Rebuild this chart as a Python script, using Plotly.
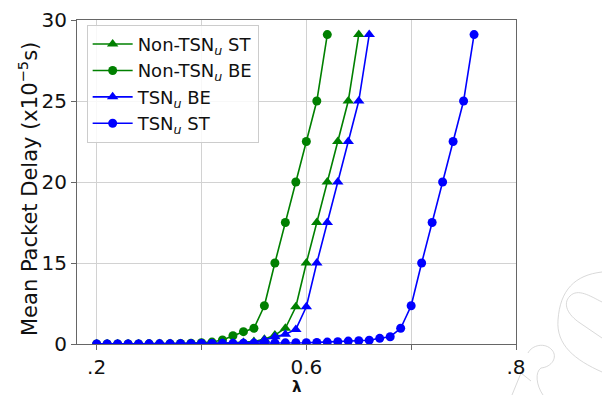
import plotly.graph_objects as go

# Offered load (lambda) grid shared by all series
LAMBDA = [0.20, 0.22, 0.24, 0.26, 0.28, 0.30, 0.32, 0.34, 0.36, 0.38,
          0.40, 0.42, 0.44, 0.46, 0.48, 0.50, 0.52, 0.54, 0.56, 0.58,
          0.60, 0.62, 0.64, 0.66, 0.68, 0.70, 0.72, 0.74, 0.76, 0.78,
          0.80, 0.82, 0.84, 0.86, 0.88, 0.90, 0.92]

# Mean packet delay per series (axis units)
NON_TSN_ST = [10.0, 10.0, 10.0, 10.0, 10.0, 10.0, 10.01, 10.01, 10.02, 10.02,
              10.03, 10.04, 10.05, 10.07, 10.1, 10.15, 10.3, 10.55, 10.97, 12.3,
              15.0, 17.5, 20.0, 22.5, 25.0, 29.1]
NON_TSN_BE = [10.0, 10.0, 10.0, 10.0, 10.0, 10.01, 10.01, 10.02, 10.03, 10.05,
              10.08, 10.12, 10.25, 10.51, 10.76, 10.97, 12.36, 15.0, 17.5, 20.0,
              22.5, 25.0, 29.1]
TSN_BE = [10.0, 10.0, 10.0, 10.0, 10.0, 10.0, 10.01, 10.01, 10.02, 10.02,
          10.03, 10.03, 10.04, 10.05, 10.07, 10.1, 10.25, 10.45, 10.6, 10.9,
          12.3, 15.0, 17.5, 20.0, 22.5, 25.0, 29.1]
TSN_ST = [10.0, 10.0, 10.0, 10.0, 10.0, 10.01, 10.01, 10.01, 10.02, 10.02,
          10.03, 10.03, 10.04, 10.04, 10.05, 10.05, 10.06, 10.06, 10.07, 10.08,
          10.08, 10.10, 10.12, 10.14, 10.18, 10.20, 10.23, 10.35, 10.45, 10.97,
          12.36, 15.0, 17.5, 20.0, 22.5, 25.0, 29.1]

X_TICKS = [0.2, 0.4, 0.6, 0.8, 1.0]
X_TICK_TEXT = [".2", "", "0.6", "", ".8"]
Y_TICKS = [10, 15, 20, 25, 30]
Y_TICK_TEXT = ["0", "15", "20", "25", "30"]

X_TITLE = "<b>λ</b>"
Y_TITLE = "Mean Packet Delay (x10<sup>−5</sup>s)"

GREEN = "#008000"
BLUE = "#0000ff"

series = [
    ("Non-TSN<sub><i>u</i></sub> ST", NON_TSN_ST, GREEN, "triangle-up"),
    ("Non-TSN<sub><i>u</i></sub> BE", NON_TSN_BE, GREEN, "circle"),
    ("TSN<sub><i>u</i></sub> BE", TSN_BE, BLUE, "triangle-up"),
    ("TSN<sub><i>u</i></sub> ST", TSN_ST, BLUE, "circle"),
]

fig = go.Figure()
for name, vals, color, sym in series:
    fig.add_trace(go.Scatter(
        x=LAMBDA[:len(vals)], y=vals, name=name, mode="lines+markers",
        line=dict(color=color, width=1.6),
        marker=dict(color=color, symbol=sym, size=9 if sym == "circle" else 10),
        cliponaxis=True,
    ))

# plot-area geometry in pixels
L, R, T, B = 77, 516, 20, 344
W, H = R - L, B - T


def px(x, y):
    return f"{(x - L) / W:.4f},{(B - y) / H:.4f}"


# faint pencil sketch in the lower-right corner
sketch = [
    f"M {px(602,272)} C {px(575,275)} {px(560,290)} {px(558,320)} C {px(556,345)} {px(575,360)} {px(602,372)}",
    f"M {px(602,302)} C {px(590,296)} {px(578,288)} {px(570,296)} C {px(562,304)} {px(568,315)} {px(580,323)} L {px(602,338)}",
    f"M {px(528,353)} C {px(532,345)} {px(545,342)} {px(552,350)} C {px(558,357)} {px(552,367)} {px(541,368)} C {px(535,372)} {px(536,385)} {px(543,395)}",
    f"M {px(512,395)} L {px(521,373)} L {px(531,381)}",
]
shapes = [dict(type="path", path=p, xref="paper", yref="paper",
               line=dict(color="#cfcfcf", width=0.8), layer="below")
          for p in sketch]

axis_common = dict(
    showgrid=True, gridcolor="#d2d2d2", gridwidth=1,
    showline=True, linecolor="#666666", linewidth=1.2, mirror=True,
    ticks="outside", ticklen=5, tickcolor="#666666", tickwidth=1,
    tickfont=dict(family="DejaVu Sans", size=20, color="#111111"),
    zeroline=False, automargin=False,
)

annotations = [
    dict(text=X_TITLE, xref="paper", yref="paper",
         x=(296.5 - L) / W, y=(B - 387) / H, xanchor="center", yanchor="middle",
         showarrow=False, font=dict(family="DejaVu Sans", size=15, color="#111111")),
    dict(text=Y_TITLE, xref="paper", yref="paper", textangle=-90,
         x=(28 - L) / W, y=(B - 189) / H, xanchor="center", yanchor="middle",
         showarrow=False, font=dict(family="DejaVu Sans", size=21, color="#111111")),
]

fig.update_layout(
    width=602, height=395,
    margin=dict(l=L, r=602 - R, t=T, b=395 - B),
    paper_bgcolor="white", plot_bgcolor="white",
    font=dict(family="DejaVu Sans", color="#111111"),
    showlegend=True,
    legend=dict(
        x=0.022, y=0.985, xanchor="left", yanchor="top",
        bgcolor="rgba(255,255,255,0.85)", bordercolor="#cccccc", borderwidth=1,
        font=dict(family="DejaVu Sans", size=18, color="#111111"),
        itemwidth=40, tracegroupgap=0,
    ),
    xaxis=dict(range=[0.1625, 1.0], tickvals=X_TICKS, ticktext=X_TICK_TEXT,
               **axis_common),
    yaxis=dict(range=[10, 30], tickvals=Y_TICKS, ticktext=Y_TICK_TEXT,
               **axis_common),
    shapes=shapes,
    annotations=annotations,
)

fig.write_html("out.html")
